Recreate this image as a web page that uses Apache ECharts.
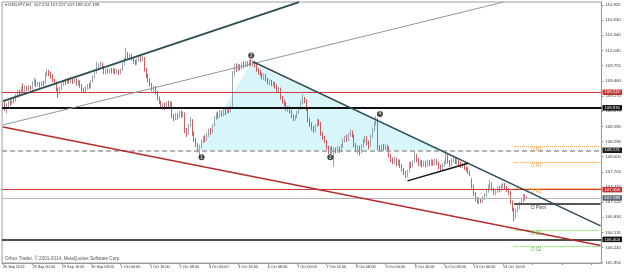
<!DOCTYPE html>
<html><head><meta charset="utf-8">
<script src="https://cdn.jsdelivr.net/npm/echarts@6/dist/echarts.min.js"></script>
<style>html,body{margin:0;padding:0;background:#fff}#c{width:624px;height:273px}</style>
</head><body><div id="c"></div>
<script>
// ---------- data ----------
const timeLabels = ['26 Sep 2014','29 Sep 00:00','29 Sep 16:00','30 Sep 08:00','1 Oct 00:00','1 Oct 16:00',
  '2 Oct 08:00','3 Oct 00:00','3 Oct 16:00','6 Oct 08:00','7 Oct 00:00','7 Oct 16:00','8 Oct 08:00',
  '9 Oct 00:00','9 Oct 16:00','10 Oct 08:00','13 Oct 00:00','13 Oct 16:00'];
const priceTicks = [110.925,110.630,110.340,110.045,109.755,109.460,109.170,108.875,108.580,108.290,
  108.000,107.705,107.415,107.125,106.830,106.535,106.245,105.950];
// [open, close, low, high] hourly bars
const candles = [
[108.97,109.02,108.90,109.05],[109.02,108.95,108.88,109.06],[108.95,108.99,108.83,109.03],[108.99,109.05,108.95,109.08],
[109.05,109.02,108.98,109.09],[109.02,109.10,109.00,109.13],[109.10,109.08,109.03,109.14],[109.08,109.18,109.06,109.21],
[109.18,109.24,109.14,109.28],[109.24,109.22,109.17,109.29],[109.22,109.31,109.20,109.35],[109.31,109.28,109.24,109.41],
[109.28,109.33,109.25,109.37],[109.33,109.30,109.26,109.36],[109.30,109.34,109.27,109.38],[109.34,109.31,109.28,109.37],
[109.31,109.40,109.29,109.45],[109.40,109.47,109.37,109.52],[109.47,109.38,109.34,109.49],[109.38,109.41,109.35,109.44],
[109.41,109.37,109.33,109.44],[109.37,109.42,109.35,109.45],[109.42,109.40,109.36,109.46],[109.40,109.58,109.39,109.62],
[109.58,109.63,109.54,109.69],[109.63,109.60,109.55,109.67],[109.60,109.56,109.50,109.64],[109.56,109.47,109.44,109.59],
[109.47,109.42,109.38,109.50],[109.42,109.30,109.26,109.45],[109.30,109.24,109.13,109.33],[109.24,109.32,109.20,109.35],
[109.32,109.39,109.28,109.42],[109.39,109.45,109.36,109.48],[109.45,109.42,109.38,109.50],[109.42,109.48,109.40,109.52],
[109.48,109.44,109.41,109.51],[109.44,109.50,109.42,109.54],[109.50,109.46,109.40,109.53],[109.46,109.49,109.42,109.55],
[109.49,109.41,109.37,109.51],[109.41,109.45,109.36,109.48],[109.45,109.38,109.33,109.47],[109.38,109.30,109.25,109.40],
[109.30,109.27,109.22,109.33],[109.27,109.33,109.24,109.36],[109.33,109.37,109.29,109.40],[109.37,109.34,109.30,109.42],
[109.34,109.45,109.32,109.48],[109.45,109.54,109.43,109.57],[109.54,109.63,109.51,109.66],[109.63,109.70,109.60,109.83],
[109.70,109.76,109.66,109.80],[109.76,109.79,109.72,109.84],[109.79,109.73,109.69,109.82],[109.73,109.62,109.59,109.75],
[109.62,109.66,109.58,109.69],[109.66,109.63,109.60,109.70],[109.63,109.67,109.60,109.70],[109.67,109.64,109.60,109.71],
[109.64,109.68,109.61,109.71],[109.68,109.63,109.58,109.70],[109.63,109.66,109.60,109.69],[109.66,109.61,109.57,109.68],
[109.61,109.67,109.59,109.70],[109.67,109.78,109.65,109.81],[109.78,109.88,109.76,109.91],[109.88,109.95,109.85,110.10],
[109.95,109.92,109.87,110.02],[109.92,109.96,109.89,109.99],[109.96,109.89,109.85,109.98],[109.89,109.84,109.79,109.92],
[109.84,109.80,109.76,109.87],[109.80,109.86,109.77,109.89],[109.86,109.91,109.83,109.95],[109.91,109.87,109.82,109.94],
[109.87,109.90,109.84,109.94],[109.90,109.68,109.64,109.92],[109.68,109.56,109.52,109.71],[109.56,109.48,109.43,109.60],
[109.48,109.39,109.35,109.51],[109.39,109.30,109.26,109.42],[109.30,109.33,109.25,109.37],[109.33,109.24,109.20,109.36],
[109.24,109.12,109.08,109.27],[109.12,109.05,109.01,109.16],[109.05,108.96,108.92,109.08],[108.96,109.00,108.90,109.03],
[109.00,108.94,108.90,109.04],[108.94,109.03,108.92,109.06],[109.03,108.99,108.95,109.08],[108.99,109.04,108.96,109.07],
[109.04,108.78,108.74,109.06],[108.78,108.73,108.68,108.82],[108.73,108.80,108.70,108.84],[108.80,108.76,108.71,108.83],
[108.76,108.84,108.74,108.88],[108.84,108.80,108.75,108.89],[108.80,108.83,108.76,108.87],[108.83,108.50,108.45,108.85],
[108.50,108.44,108.38,108.55],[108.44,108.60,108.42,108.63],[108.60,108.70,108.57,108.76],[108.70,108.45,108.40,108.72],
[108.45,108.33,108.28,108.48],[108.33,108.22,108.18,108.36],[108.22,108.14,108.08,108.26],[108.14,108.20,107.99,108.23],
[108.20,108.30,108.16,108.33],[108.30,108.36,108.26,108.40],[108.36,108.32,108.27,108.41],[108.32,108.42,108.30,108.46],
[108.42,108.50,108.38,108.54],[108.50,108.47,108.42,108.55],[108.47,108.60,108.45,108.63],[108.60,108.74,108.58,108.78],
[108.74,108.82,108.70,108.85],[108.82,108.78,108.73,108.87],[108.78,108.86,108.75,108.90],[108.86,108.81,108.77,108.89],
[108.81,108.88,108.78,108.92],[108.88,108.85,108.80,108.93],[108.85,108.91,108.83,108.95],[108.91,108.88,108.84,108.96],
[108.88,108.94,108.85,108.98],[108.94,109.60,108.92,109.65],[109.60,109.72,109.55,109.78],[109.72,109.68,109.63,109.80],
[109.68,109.75,109.65,109.79],[109.75,109.71,109.66,109.78],[109.71,109.78,109.69,109.82],[109.78,109.74,109.70,109.84],
[109.74,109.81,109.72,109.85],[109.81,109.77,109.73,109.84],[109.77,109.83,109.74,109.87],[109.83,109.79,109.75,109.88],
[109.79,109.82,109.74,109.86],[109.82,109.76,109.72,109.84],[109.76,109.68,109.64,109.79],[109.68,109.63,109.58,109.71],
[109.63,109.59,109.55,109.67],[109.59,109.53,109.49,109.62],[109.53,109.56,109.48,109.60],[109.56,109.49,109.45,109.59],
[109.49,109.43,109.39,109.52],[109.43,109.46,109.38,109.49],[109.46,109.40,109.36,109.48],[109.40,109.42,109.35,109.45],
[109.42,109.36,109.31,109.44],[109.36,109.28,109.24,109.39],[109.28,109.31,109.22,109.34],[109.31,109.14,109.10,109.33],
[109.14,109.08,109.02,109.17],[109.08,109.02,108.97,109.10],[109.02,108.92,108.88,109.05],[108.92,108.95,108.86,108.98],
[108.95,108.87,108.83,108.97],[108.87,108.78,108.74,108.90],[108.78,108.72,108.68,108.81],[108.72,108.77,108.69,108.80],
[108.77,108.85,108.74,108.88],[108.85,108.93,108.82,108.96],[108.93,109.05,108.90,109.08],[109.05,109.12,109.01,109.20],
[109.12,109.08,109.03,109.15],[109.08,108.92,108.88,109.10],[108.92,108.70,108.66,108.95],[108.70,108.62,108.57,108.74],
[108.62,108.55,108.50,108.66],[108.55,108.50,108.46,108.59],[108.50,108.60,108.47,108.63],[108.60,108.68,108.57,108.72],
[108.68,108.64,108.59,108.72],[108.64,108.44,108.40,108.67],[108.44,108.37,108.32,108.48],[108.37,108.30,108.26,108.40],
[108.30,108.18,108.14,108.32],[108.18,108.12,108.05,108.21],[108.12,108.16,107.99,108.19],[108.16,108.10,108.06,108.20],
[108.10,108.14,107.80,108.18],[108.14,108.11,108.06,108.17],[108.11,108.16,108.07,108.20],[108.16,108.12,108.07,108.19],
[108.12,108.20,108.09,108.24],[108.20,108.30,108.17,108.34],[108.30,108.36,108.27,108.40],[108.36,108.33,108.28,108.42],
[108.33,108.42,108.30,108.46],[108.42,108.47,108.38,108.52],[108.47,108.40,108.36,108.50],[108.40,108.22,108.18,108.43],
[108.22,108.14,108.09,108.26],[108.14,108.18,108.05,108.22],[108.18,108.10,108.02,108.21],[108.10,108.20,108.06,108.24],
[108.20,108.30,108.17,108.34],[108.30,108.36,108.26,108.40],[108.36,108.28,108.22,108.39],[108.28,108.22,108.14,108.31],
[108.22,108.38,108.19,108.42],[108.38,108.52,108.35,108.56],[108.52,108.64,108.48,108.68],[108.64,108.72,108.60,108.78],
[108.72,108.18,108.12,108.74],[108.18,108.14,108.09,108.22],[108.14,108.19,108.10,108.23],[108.19,108.15,108.11,108.24],
[108.15,108.20,108.12,108.25],[108.20,108.16,108.10,108.22],[108.16,108.02,107.98,108.19],[108.02,107.94,107.89,108.05],
[107.94,107.90,107.85,107.98],[107.90,107.96,107.86,108.00],[107.96,107.86,107.81,107.98],[107.86,107.92,107.82,107.95],
[107.92,107.83,107.78,107.94],[107.83,107.75,107.71,107.86],[107.75,107.68,107.64,107.78],[107.68,107.63,107.59,107.72],
[107.63,107.72,107.60,107.75],[107.72,107.86,107.69,107.89],[107.86,107.82,107.77,107.90],[107.82,107.90,107.79,107.93],
[107.90,108.02,107.87,108.10],[108.02,107.94,107.89,108.05],[107.94,107.85,107.81,107.97],[107.85,107.90,107.82,107.94],
[107.90,107.84,107.79,107.93],[107.84,107.89,107.80,107.92],[107.89,107.83,107.79,107.92],[107.83,107.90,107.80,107.94],
[107.90,107.85,107.81,107.93],[107.85,107.91,107.82,107.95],[107.91,107.86,107.82,107.94],[107.86,107.92,107.83,107.96],
[107.92,107.87,107.83,107.95],[107.87,107.80,107.75,107.90],[107.80,107.76,107.71,107.84],[107.76,107.84,107.73,107.87],
[107.84,107.88,107.80,107.92],[107.88,108.05,107.85,108.09],[108.05,107.90,107.86,108.07],[107.90,107.84,107.80,107.93],
[107.84,107.92,107.81,107.96],[107.92,107.96,107.88,108.01],[107.96,107.89,107.85,107.99],[107.89,107.93,107.84,107.97],
[107.93,107.86,107.82,107.95],[107.86,107.82,107.78,107.90],[107.82,107.85,107.78,107.88],[107.85,107.78,107.74,107.87],
[107.78,107.75,107.71,107.81],[107.75,107.70,107.66,107.79],[107.70,107.66,107.62,107.73],[107.55,107.42,107.38,107.58],
[107.42,107.28,107.24,107.46],[107.28,107.18,107.13,107.31],[107.18,107.12,107.09,107.22],[107.12,107.17,107.08,107.21],
[107.17,107.14,107.10,107.20],[107.14,107.20,107.11,107.23],[107.20,107.26,107.16,107.29],[107.26,107.33,107.22,107.36],
[107.33,107.42,107.30,107.46],[107.42,107.48,107.38,107.55],[107.48,107.38,107.34,107.50],[107.38,107.30,107.26,107.40],
[107.30,107.34,107.25,107.37],[107.34,107.39,107.30,107.42],[107.39,107.35,107.31,107.43],[107.35,107.42,107.33,107.46],
[107.42,107.46,107.38,107.50],[107.46,107.40,107.36,107.49],[107.40,107.36,107.31,107.43],[107.36,107.30,107.26,107.39],
[107.30,107.12,107.08,107.33],[107.12,106.98,106.94,107.15],[106.98,106.84,106.75,107.01],[106.84,106.96,106.80,106.99],
[106.96,107.02,106.92,107.06],[107.02,107.10,106.98,107.13],[107.10,107.16,107.06,107.19],[107.16,107.24,107.12,107.28],
[107.24,107.21,107.15,107.27],[107.224,107.198,107.198,107.227]
];
const levelValues = [109.242, 108.935, 108.121, 107.356, 107.198, 106.404];
const pivotNames  = ['D R3','D R2','D R1','D Pivot','D S1','D S2'];
const pivotValues = [108.197, 107.890, 107.390, 107.083, 106.583, 106.276];
const pivotFrom = 278, pivotTo = 325;
// trend lines: [barIndex, price] endpoints
const channelLine  = [[0,109.07],[161,110.98]];
const fanLine      = [[0,108.61],[272,110.98]];
const redLine      = [[0,108.57],[325,106.28]];
const downTrend    = [[136,109.83],[325,106.66]];
const triangleBase = [[220,107.53],[253,107.87]];
const patternArea  = [[106,108.121],[135,109.80],[240,108.121]];
const waveLabels = ['1','2','3','4'];
const wavePoints = [[108,107.985],[135,109.95],[178,107.985],[205,108.82]];
const slotCount = 326;

// ---------- chart ----------
const FONT = 'Liberation Sans';
const categories = Array.from({length: slotCount}, (_, i) => i);
const chart = echarts.init(document.getElementById('c'), null, {renderer: 'canvas'});

const levelStyles = [
  {color:'#cf3b3b', width:1.2, type:'solid',  tag:'#c43636'},
  {color:'#111111', width:2,   type:'solid',  tag:'#111111'},
  {color:'#9a9a9a', width:1.5, type:[5,3],    tag:'#1e1e1e'},
  {color:'#cf3b3b', width:1.2, type:'solid',  tag:'#c43636'},
  {color:'#b4b4b4', width:1,   type:'solid',  tag:'#5d6b76'},
  {color:'#111111', width:1.5, type:'solid',  tag:'#111111'}
];
const pivotStyles = [
  {color:'#f5a742', text:'#f0a040', width:1, type:'dotted'},
  {color:'#f5a742', text:'#f0a040', width:1, type:'dotted'},
  {color:'#f5a742', text:'#f0a040', width:1, type:'dotted'},
  {color:'#555555', text:'#444444', width:2, type:'solid'},
  {color:'#7ccc66', text:'#66bb44', width:1, type:'dotted'},
  {color:'#7ccc66', text:'#66bb44', width:1, type:'dotted'}
];

const markData = [];
levelValues.forEach((v, k) => {
  const s = levelStyles[k];
  markData.push({
    yAxis: v,
    lineStyle: {color: s.color, width: s.width, type: s.type},
    label: {show: true, position: 'end', distance: 1, formatter: v.toFixed(3),
      backgroundColor: s.tag, color: '#fff', fontSize: 4.3, fontFamily: FONT,
      padding: [1, 2, 0.5, 2]}
  });
});
pivotValues.forEach((v, k) => {
  const s = pivotStyles[k];
  markData.push([
    {coord: [pivotFrom, v], lineStyle: {color: s.color, width: s.width, type: s.type},
     label: {show: true, position: 'insideStartBottom', formatter: pivotNames[k], distance: [17, 1],
       color: s.text, fontSize: 4.6, fontFamily: FONT}},
    {coord: [pivotTo, v]}
  ]);
});
function seg(pts, color, width) {
  return [{coord: pts[0], lineStyle: {color: color, width: width, type: 'solid'}, label: {show: false}},
          {coord: pts[1]}];
}
markData.push(seg(channelLine, '#2f4f55', 2));
markData.push(seg(fanLine, '#8a9a9e', 1));
markData.push(seg(redLine, '#b62c2c', 1.5));
markData.push(seg(downTrend, '#2f4f55', 1.5));
markData.push(seg(triangleBase, '#111111', 1.5));

const option = {
  animation: false,
  backgroundColor: '#ffffff',
  grid: {left: 2, right: 20, top: 2, bottom: 10, show: true, borderColor: '#a0a0a0', borderWidth: 1, backgroundColor: '#fff'},
  xAxis: {
    type: 'category', data: categories, boundaryGap: true,
    axisLine: {show: true, lineStyle: {color: '#999'}},
    axisTick: {show: true, interval: 15, alignWithLabel: true, length: 2, lineStyle: {color: '#999'}},
    axisLabel: {interval: 15, align: 'left', margin: 2, fontSize: 3.8, color: '#333', fontFamily: FONT,
      formatter: (v, idx) => timeLabels[idx / 16] || ''},
    splitLine: {show: false}
  },
  yAxis: {
    type: 'value', position: 'right', min: 105.944, max: 110.983, scale: true,
    axisLine: {show: true, lineStyle: {color: '#999'}},
    axisTick: {show: true, length: 2, customValues: priceTicks, lineStyle: {color: '#999'}},
    axisLabel: {customValues: priceTicks, margin: 4, fontSize: 4.3, color: '#333', fontFamily: FONT,
      formatter: v => v.toFixed(3)},
    splitLine: {show: false}
  },
  graphic: [
    {type: 'text', left: 5, top: 3, style: {text: '\u25BE USDJPY,H1  107.224 107.227 107.198 107.198',
      fontSize: 4.3, fontFamily: FONT, fill: '#333'}},
    {type: 'text', left: 5, top: 256, style: {text: 'Orbex Trader, \u00A9 2001-2014, MetaQuotes Software Corp.',
      fontSize: 4.6, fontFamily: FONT, fill: '#555'}}
  ],
  series: [
    {
      type: 'custom', z: 1, silent: true,
      data: patternArea,
      renderItem: (params, api) => params.dataIndex === 0 ? {
        type: 'polygon',
        shape: {points: patternArea.map(p => api.coord(p))},
        style: {fill: '#d8f5fa'}
      } : null
    },
    {
      type: 'candlestick', z: 2,
      data: candles,
      barMaxWidth: 1.4,
      itemStyle: {color: '#7d8e9b', color0: '#c0353a', borderColor: '#7d8e9b', borderColor0: '#c0353a', borderWidth: 0.8},
      markLine: {silent: true, symbol: 'none', animation: false, data: markData}
    },
    {
      type: 'scatter', z: 6, silent: true,
      symbol: 'circle', symbolSize: 6,
      itemStyle: {color: '#111'},
      label: {show: true, position: 'inside', formatter: '{b}', color: '#fff', fontSize: 4.5, fontWeight: 'bold', fontFamily: FONT},
      data: wavePoints.map((p, k) => ({name: waveLabels[k], value: p}))
    }
  ]
};
chart.setOption(option);
</script></body></html>
